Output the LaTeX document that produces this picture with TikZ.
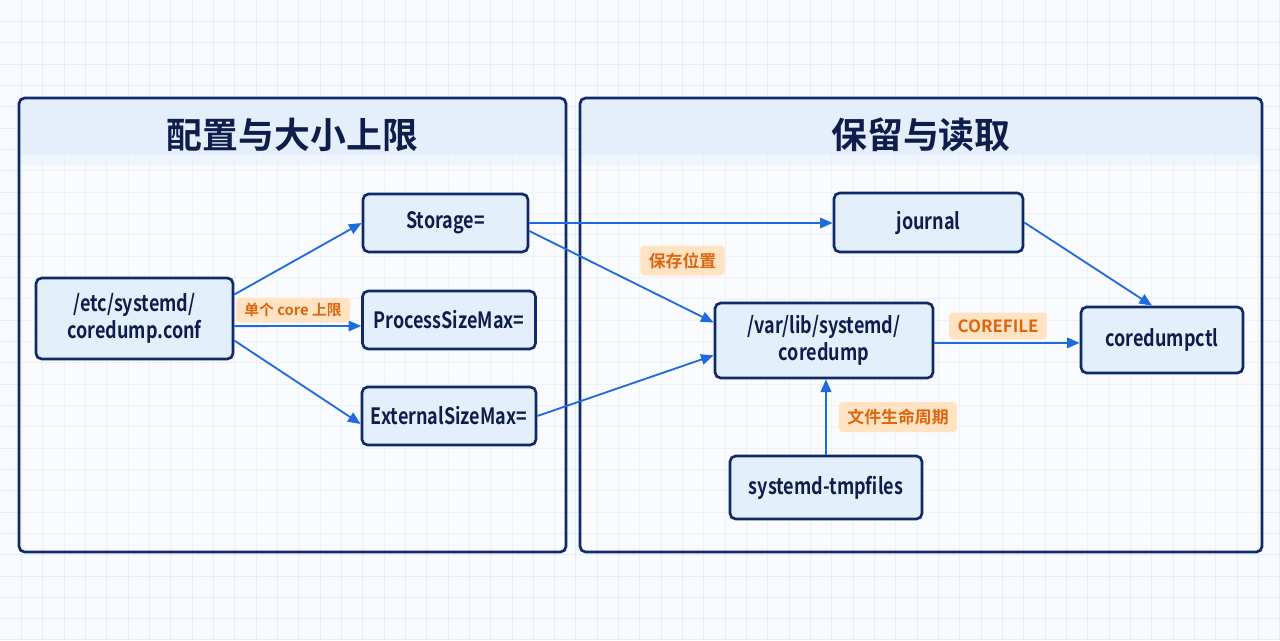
\documentclass[tikz,border=0pt]{standalone}
\usepackage{fontspec}
\setmainfont{Noto Sans CJK SC}[BoldFont={* Bold}]
\newfontfamily\boxfont{Noto Sans CJK SC Bold}[FakeStretch=0.8]
\usepackage{tikz}
\usetikzlibrary{arrows.meta}
\definecolor{bgc}{HTML}{F7FAFE}
\definecolor{gridc}{HTML}{E4ECF6}
\definecolor{navy}{HTML}{10296A}
\definecolor{ink}{HTML}{0F1D4C}
\definecolor{boxc}{HTML}{E4EFFC}
\definecolor{hdrc}{HTML}{E3EEFB}
\definecolor{arrc}{HTML}{1F6BDB}
\definecolor{tagc}{HTML}{FFE3C2}
\definecolor{tagt}{HTML}{DC6610}
\newdimen\pxu \pxu=0.025cm

\begin{document}
\begin{tikzpicture}[x=1\pxu,y=-1\pxu,
box/.style n args={2}{draw=navy,line width=1.9pt,fill=boxc,rounded corners=4pt,minimum width=#1\pxu,minimum height=#2\pxu,inner sep=0pt,text=ink,align=center,font=\boxfont\fontsize{16}{19}\selectfont},
tag/.style={fill=tagc,text=tagt,rounded corners=3pt,inner xsep=6pt,minimum height=30\pxu,font=\bfseries\fontsize{12}{14}\selectfont},
arr/.style={draw=arrc,line width=1.3pt,-{Triangle[length=9pt,width=7.5pt]}},
ttl/.style={text=ink,font=\bfseries\fontsize{25.5}{28}\selectfont}]
\useasboundingbox (0,0) rectangle (1280,640);
\fill[bgc] (0,0) rectangle (1280,640);
\foreach \g in {1,...,60} {
   \draw[gridc,line width=0.6pt] (\g*21.33,0) -- (\g*21.33,640);
}
\foreach \g in {1,...,30} {
   \draw[gridc,line width=0.6pt] (0,\g*21.33) -- (1280,\g*21.33);
}
% the two panels
\foreach \l/\r/\t in {19/566/配置与大小上限,580/1262/保留与读取} {
   \begin{scope}
   \clip[rounded corners=4pt] (\l,98) rectangle (\r,552);
   \fill[white,opacity=0.35] (\l,98) rectangle (\r,552);
   \fill[hdrc,opacity=0.9] (\l,98) rectangle (\r,155);
   \fill[hdrc,opacity=0.45] (\l,155) rectangle (\r,165);
   \end{scope}
   \draw[navy,line width=1.9pt,rounded corners=4pt] (\l,98) rectangle (\r,552);
   \node[ttl] (ttl\l) at ({(\l+\r)/2},135) {\t};
}
\node[box={197}{81}] (conf) at (134.5,318.5) {/etc/systemd/\\coredump.conf};
\node[box={165}{58}] (stor) at (445.5,223) {Storage=};
\node[box={173}{58}] (psm) at (449,320) {ProcessSizeMax=};
\node[box={174}{58}] (esm) at (449,416) {ExternalSizeMax=};
\node[box={189}{59}] (jrnl) at (928.5,222.5) {journal};
\node[box={218}{75}] (vard) at (824,340.5) {/var/lib/systemd/\\coredump};
\node[box={162}{66}] (ctl) at (1162,340) {coredumpctl};
\node[box={192}{63}] (tmpf) at (826,487.5) {systemd-tmpfiles};
\draw[arr] ([yshift=0.6cm]conf.east) -- (stor.west);
\draw[arr] ([yshift=-0.19cm]conf.east) -- ([yshift=-0.15cm]psm.west);
\draw[arr] ([yshift=-0.55cm]conf.east) -- ([yshift=-0.2cm]esm.west);
\draw[arr] (stor.east) -- (stor.east -| jrnl.west);
\draw[arr] ([yshift=-0.2cm]stor.east) -- ([yshift=0.45cm]vard.west);
\draw[arr] (esm.east) -- ([yshift=-0.37cm]vard.west);
\draw[arr] (jrnl.east) -- ([xshift=-0.25cm]ctl.north);
\draw[arr] ([yshift=-0.06cm]vard.east) -- ([yshift=-0.06cm]vard.east -| ctl.west);
\draw[arr] (tmpf.north) -- (tmpf.north |- vard.south);
\node[tag,minimum height=25\pxu,font=\bfseries\fontsize{10.5}{13}\selectfont] (t1) at (293,310) {单个 core 上限};
\node[tag] (t2) at (682.5,260.5) {保存位置};
\node[tag,minimum height=27\pxu] (t3) at (998,326) {COREFILE};
\node[tag] (t4) at (898,417) {文件生命周期};
\end{tikzpicture}
\end{document}
